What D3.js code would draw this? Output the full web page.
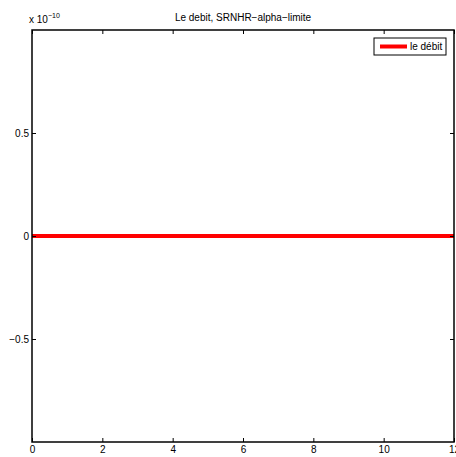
<!DOCTYPE html>
<html><head><meta charset="utf-8">
<script src="https://cdn.jsdelivr.net/npm/d3@7"></script>
<style>body{margin:0;background:#fff}svg{display:block}text{font-family:"Liberation Sans",Arial,sans-serif}</style>
</head><body>
<script>
const times = [0, 1, 2, 3, 4, 5, 6, 7, 8, 9, 10, 11, 12];
const debit = [0, 0, 0, 0, 0, 0, 0, 0, 0, 0, 0, 0, 0];
const xTicks = [0, 2, 4, 6, 8, 10, 12];
const yTicks = [-0.5, 0, 0.5];
const yTickLabels = ["\u22120.5", "0", "0.5"];
const title = "Le debit, SRNHR\u2212alpha\u2212limite";
const legendLabel = "le débit";

const W = 456, H = 457;
const L = 32, R = 454, T = 30, B = 442;
const svg = d3.select("body").append("svg").attr("width", W).attr("height", H);
const x = d3.scaleLinear().domain([0, 12]).range([L, R]);
const y = d3.scaleLinear().domain([-1, 1]).range([B, T]);

// data line
svg.append("path").datum(times.map((t, i) => [t, debit[i]]))
  .attr("fill", "none").attr("stroke", "#ff0000").attr("stroke-width", 4)
  .attr("d", d3.line().x(d => x(d[0])).y(d => y(d[1])));

// axes with inward ticks
const tl = 4;
svg.append("g").attr("transform", `translate(0,${B})`)
  .call(d3.axisBottom(x).tickValues(xTicks).tickSizeInner(-tl).tickSizeOuter(0).tickPadding(4).tickFormat(d3.format("d")));
svg.append("g").attr("transform", `translate(0,${T})`)
  .call(d3.axisTop(x).tickValues(xTicks).tickSizeInner(-tl).tickSizeOuter(0).tickFormat(""));
svg.append("g").attr("transform", `translate(${L},0)`)
  .call(d3.axisLeft(y).tickValues(yTicks).tickSizeInner(-tl).tickSizeOuter(0).tickPadding(3).tickFormat((d, i) => yTickLabels[i]));
svg.append("g").attr("transform", `translate(${R},0)`)
  .call(d3.axisRight(y).tickValues(yTicks).tickSizeInner(-tl).tickSizeOuter(0).tickFormat(""));
svg.selectAll(".domain").remove();
svg.selectAll(".tick line").attr("stroke", "#000");
svg.selectAll(".tick text").attr("font-size", 10).attr("fill", "#000")
  .attr("font-family", "'Liberation Sans', Arial, sans-serif");

// box
svg.append("rect").attr("x", L).attr("y", T).attr("width", R - L).attr("height", B - T)
  .attr("fill", "none").attr("stroke", "#000").attr("stroke-width", 1.5);

// title
svg.append("text").attr("x", (L + R) / 2).attr("y", 21).attr("text-anchor", "middle")
  .attr("font-size", 10).text(title);

// exponent
const ex = svg.append("text").attr("x", 29).attr("y", 23).attr("font-size", 10);
ex.append("tspan").text("x 10");
ex.append("tspan").attr("dy", -5).attr("font-size", 7).text("\u221210");

// legend
const lg = svg.append("g");
lg.append("rect").attr("x", 374).attr("y", 38).attr("width", 72).attr("height", 17)
  .attr("fill", "#fff").attr("stroke", "#000").attr("stroke-width", 1);
lg.append("line").attr("x1", 380).attr("x2", 407).attr("y1", 46.5).attr("y2", 46.5)
  .attr("stroke", "#ff0000").attr("stroke-width", 4);
lg.append("text").attr("x", 410).attr("y", 50).attr("font-size", 10).text(legendLabel);
</script>
</body></html>
